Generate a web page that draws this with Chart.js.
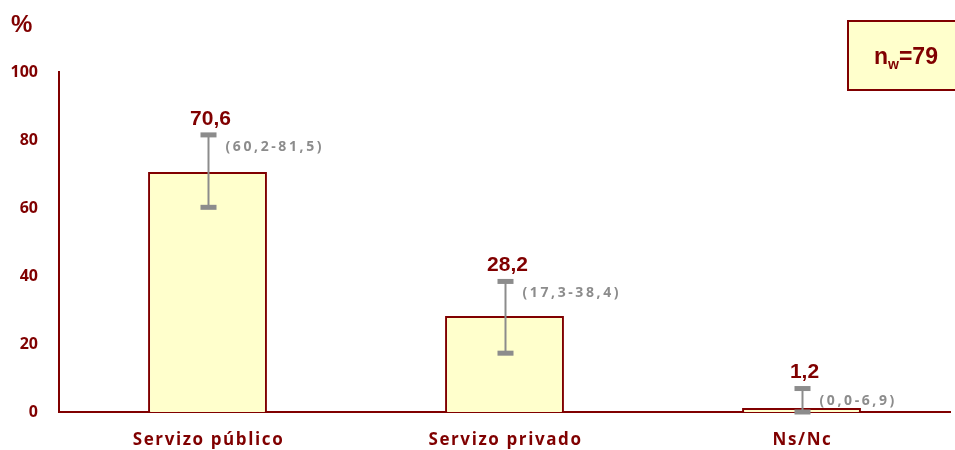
<!DOCTYPE html>
<html><head><meta charset="utf-8">
<style>html,body{margin:0;padding:0;background:#fff}#wrap{width:955px;height:450px;position:relative}</style>
<script src="https://cdn.jsdelivr.net/npm/chart.js@4/dist/chart.umd.min.js"></script>
</head><body><div id="wrap"><canvas id="c" width="955" height="450"></canvas></div>
<script>
const categories = ["Servizo público", "Servizo privado", "Ns/Nc"];
const values = [70.6, 28.2, 1.2];
const ciLow = [60.2, 17.3, 0.0];
const ciHigh = [81.5, 38.4, 6.9];
const yTicks = [0, 20, 40, 60, 80, 100];
const sampleLabel = "79";

const RED = '#800000';
const GREY = '#8c8c8c';
const fmt = v => v.toFixed(1).replace('.', ',');

const overlay = {
  id: 'overlay',
  afterDraw(chart) {
    const ctx = chart.ctx;
    const meta = chart.getDatasetMeta(0);
    const y = chart.scales.y, x = chart.scales.x;
    ctx.save();
    meta.data.forEach((bar, i) => {
      const cx = bar.x + 1;
      const yh = y.getPixelForValue(ciHigh[i]);
      const yl = y.getPixelForValue(ciLow[i]);
      ctx.strokeStyle = GREY; ctx.lineWidth = 2;
      ctx.beginPath(); ctx.moveTo(cx, yh); ctx.lineTo(cx, yl); ctx.stroke();
      ctx.fillStyle = GREY;
      ctx.fillRect(cx - 8, yh - 2.5, 16, 5);
      ctx.fillRect(cx - 8, yl - 2.5, 16, 5);
      // value label
      ctx.fillStyle = RED;
      ctx.font = 'bold 21px "Liberation Sans", Arial, sans-serif';
      ctx.textAlign = 'center'; ctx.textBaseline = 'middle';
      ctx.letterSpacing = '0px';
      ctx.fillText(fmt(values[i]), bar.x + 3, yh - 16);
      // CI label
      ctx.fillStyle = GREY;
      ctx.font = 'bold 14px "Open Sans", sans-serif';
      ctx.textAlign = 'left';
      ctx.letterSpacing = '2.6px';
      ctx.fillText('(' + fmt(ciLow[i]) + '-' + fmt(ciHigh[i]) + ')', cx + 17, yh + 12);
    });
    // x labels
    ctx.fillStyle = RED;
    ctx.font = 'bold 17px "Open Sans", sans-serif';
    ctx.textAlign = 'center'; ctx.textBaseline = 'middle';
    ctx.letterSpacing = '1.6px';
    categories.forEach((c, i) => {
      ctx.fillText(c, x.getPixelForValue(i) + 1, 440);
    });
    ctx.letterSpacing = '0px';
    // percent sign
    ctx.font = 'bold 24px "Liberation Sans", Arial, sans-serif';
    ctx.textAlign = 'left';
    ctx.fillText('%', 11, 25);
    // n box
    ctx.fillStyle = '#FFFFCC';
    ctx.fillRect(848, 21, 120, 69);
    ctx.strokeStyle = RED; ctx.lineWidth = 2;
    ctx.strokeRect(848, 21, 120, 69);
    ctx.fillStyle = RED;
    ctx.textBaseline = 'alphabetic';
    ctx.font = 'bold 23px "Liberation Sans", Arial, sans-serif';
    let tx = 874;
    ctx.fillText('n', tx, 64); tx += ctx.measureText('n').width;
    ctx.font = 'bold 14px "Liberation Sans", Arial, sans-serif';
    ctx.fillText('w', tx, 69); tx += ctx.measureText('w').width;
    ctx.font = 'bold 23px "Liberation Sans", Arial, sans-serif';
    ctx.fillText('=' + sampleLabel, tx, 64);
    ctx.restore();
  }
};

new Chart(document.getElementById('c'), {
  type: 'bar',
  data: {
    labels: categories,
    datasets: [{
      data: values,
      backgroundColor: '#FFFFCC',
      borderColor: RED,
      borderWidth: 2,
      borderSkipped: 'bottom',
      barPercentage: 0.8,
      categoryPercentage: 0.5
    }]
  },
  options: {
    responsive: false,
    animation: false,
    devicePixelRatio: 1,
    layout: { padding: { top: 72, right: 5, left: 0, bottom: 0 } },
    plugins: { legend: { display: false }, tooltip: { enabled: false } },
    scales: {
      x: {
        offset: true,
        grid: { display: false, drawTicks: false, offset: true },
        border: { color: RED, width: 2 },
        ticks: { display: false },
        afterFit: s => { s.height = 38; }
      },
      y: {
        min: 0, max: 100,
        afterBuildTicks: s => { s.ticks = yTicks.map(v => ({ value: v })); },
        grid: { display: false, drawTicks: false },
        border: { color: RED, width: 2 },
        ticks: {
          color: RED,
          padding: 21,
          font: { family: '"Open Sans", sans-serif', weight: 'bold', size: 16 }
        },
        afterFit: s => { s.width = 59; }
      }
    }
  },
  plugins: [overlay]
});
</script></body></html>
